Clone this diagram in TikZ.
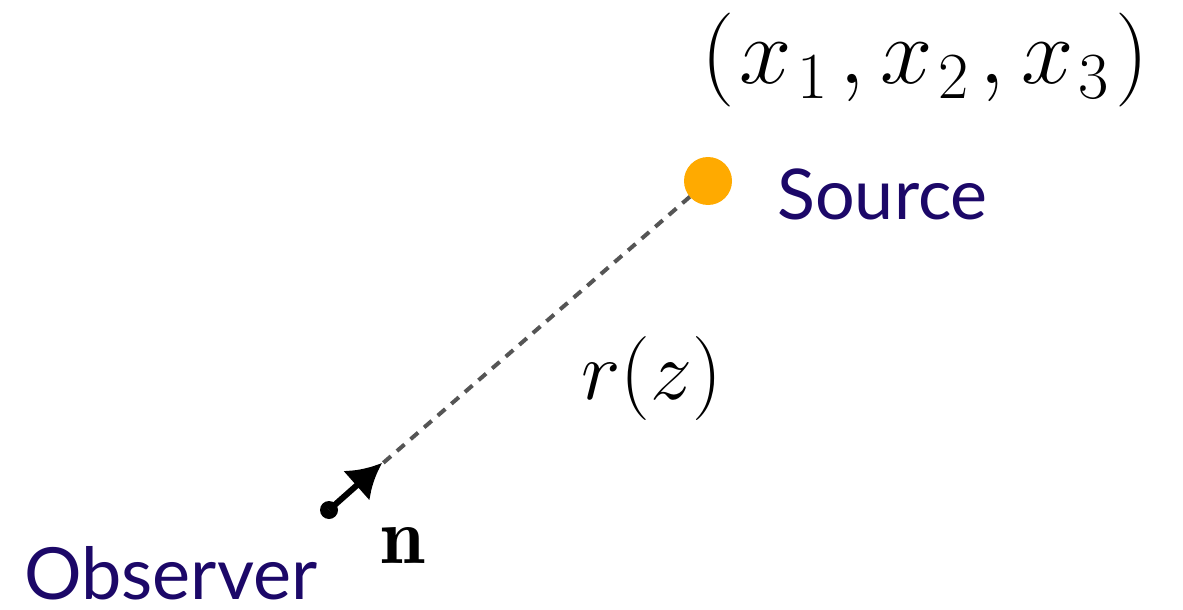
\RequirePackage{fix-cm}
\documentclass[tikz,border=0pt]{standalone}
\usepackage{amsmath,amssymb}
\usepackage{fontspec}
\newfontfamily\labelfont{Lato}
\usetikzlibrary{arrows.meta,positioning}
\definecolor{labelblue}{RGB}{28,8,104}
\definecolor{srcorange}{RGB}{255,170,0}
\definecolor{raygray}{RGB}{85,85,85}

\begin{document}
\begin{tikzpicture}[x=0.5pt,y=-0.5pt,>=Latex,
  lbl/.style={inner sep=0pt,text=labelblue,font=\labelfont\fontsize{35}{40}\selectfont},
  mth/.style={inner sep=0pt,font=\fontsize{#1}{#1}\selectfont}]
\useasboundingbox (0,0) rectangle (1183,610);

\node[circle,fill=black,inner sep=0pt,minimum size=9pt] (obs) at (329,510) {};
\coordinate (tip) at (382,463);
\coordinate (srcpos) at (708,181);

\draw[raygray,line width=2pt,dash pattern=on 5pt off 4pt] (obs.center) -- (srcpos);
\draw[line width=3pt,-{Latex[length=17pt,width=20pt]}] (obs.center) -- (tip);
\node[circle,fill=srcorange,inner sep=0pt,minimum size=24pt] (src) at (srcpos) {};

\node[mth=47,anchor=base west] (coords) at (701,84)
  {$(\mkern1mu x_{\mkern1.5mu 1}\mkern2mu, x_{\mkern1.5mu 2}\mkern2mu, x_{\mkern1.5mu 3}\mkern1mu)$};
\node[lbl,anchor=base west] (srclbl) at (777,220) {Source};
\node[mth=42,anchor=base west] (dist) at (581,399) {$r(z)$};
\node[mth=40,anchor=base west] (nvec) at (380,563) {$\mathbf{n}$};
\node[lbl,font=\labelfont\fontsize{36}{40}\selectfont,anchor=base west] (obslbl) at (24,599) {Observer};
\end{tikzpicture}
\end{document}
